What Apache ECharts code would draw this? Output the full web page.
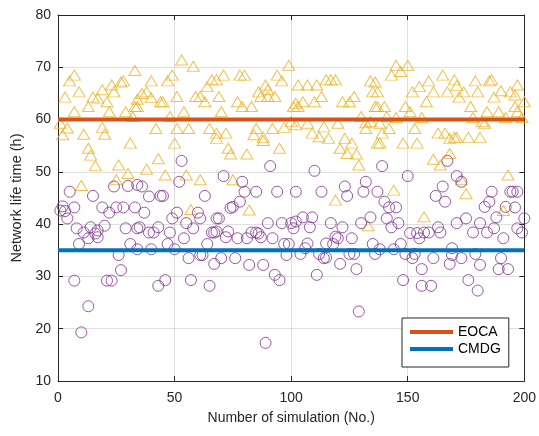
<!DOCTYPE html>
<html>
<head>
<meta charset="utf-8">
<script src="https://cdn.jsdelivr.net/npm/echarts@6/dist/echarts.min.js"></script>
<style>html,body{margin:0;padding:0;background:#fff;}#c{width:539px;height:436px;}</style>
</head>
<body>
<div id="c"></div>
<script>
// x ticks / y ticks
const xTicks = [0, 50, 100, 150, 200];
const yTicks = [10, 20, 30, 40, 50, 60, 70, 80];
const eocaLevel = 60;
const cmdgLevel = 35;
// triangle markers [simulation, life time]
const triangleRuns = [
[7,68.5],[5,67.4],[9,65.3],[3,64.3],[7,61.5],[1,59.3],[4,58.4],[2,57.1],[11,57.2],[13,54.5],[14,53.2],[16,51.2],[10,47.4],[15,64.3],[17,64.1],[19,65.7],[23,66.6],[28,67.4],[27,67.2],[33,69.4],[24,65.3],[21,63.4],[22,61.5],[29,61.5],[19,58.5],[20,57.2],[31,55.5],[26,51.3],[30,49.7],[25,48.5],[32,60.6],[34,63.9],[13,62.5],[33,62.5],
[53,71.4],[58,70.2],[49,68.5],[47,67.4],[40,67.4],[36,65],[38,65.3],[40,64.2],[44,63.4],[45,63.4],[51,64.4],[59,64.4],[61,64.4],[63,63.4],[64,66.3],[66,67.6],[54,61.5],[34,62.5],[48,60.6],[42,58.3],[51,58.3],[56,58.3],[65,58.3],[68,56.4],[50,55.5],[43,52.5],[38,50.5],[46,49.4],[55,49.4],[61,48.5],[57,42.8],
[99,70.4],[71,68.5],[78,68.5],[80,68.5],[68,67.6],[94,68.5],[96,67.4],[69,64.4],[86,65.3],[89,66.6],[90,65.7],[90,64.4],[87,64.4],[93,64.4],[77,63.4],[79,62.5],[83,62.5],[70,61.5],[101,62.5],[100,59.6],[97,58.5],[68,57.4],[72,57.4],[85,58.3],[92,58.3],[84,57.1],[88,56.6],[73,54.5],[74,53.4],[81,53.4],[95,54.5],[75,48.5],[82,42.7],[88,56.0],
[103,66.6],[107,66.6],[111,66.6],[115,67.6],[117,67.6],[119,67.6],[134,67.4],[135,65.3],[113,64.4],[102,63.1],[105,63.4],[110,63.4],[122,63.4],[125,63.4],[127,64.4],[136,62.5],[103,62.5],[130,60.6],[132,59.4],[134,59.6],[102,59],[107,59.3],[114,58.6],[120,59.3],[132,58.3],[109,57.4],[112,56.7],[116,56.4],[123,56.4],[126,55.5],[137,55.5],[121,54.5],[124,53.5],[128,53.4],[129,51.3],[119,44.6],[133,39.7],
[145,70.4],[150,70.4],[147,69.2],[143,68.5],[165,68.5],[159,67.4],[136,67.2],[155,66.3],[137,65.3],[152,65.3],[161,65.3],[167,65.3],[171,66.5],[158,63.4],[149,62.5],[151,61.5],[137,62.5],[140,62.5],[141,60.6],[145,60.4],[156,60.4],[138,59.3],[142,58.3],[153,58.3],[163,57.4],[166,57.4],[168,56.4],[170,56.6],[139,57.4],[138,55.5],[148,55.5],[154,55.5],[168,53.5],[161,52.4],[164,51.3],[144,46.5],[157,41.4],
[179,67.4],[185,67.4],[186,67.6],[170,67.6],[197,66.6],[174,65.3],[180,65.3],[190,65.5],[194,65.3],[196,64.7],[172,64.3],[187,64.3],[200,63.4],[177,62.5],[196,62.5],[184,61.5],[189,61.5],[197,61.5],[178,60.4],[192,60.4],[199,60.4],[182,59.6],[183,59.3],[171,56.6],[176,56.6],[181,56.6],[193,49.4],[173,48.5],[175,45.8],[191,42.6]
];
// circle markers [simulation, life time]
const circleRuns = [
[5,46.2],[15,45.4],[24,47.2],[30,47.3],[34,47.5],[2,43.4],[7,43.2],[1,42.6],[4,41.1],[19,43.2],[22,42.2],[25,43.2],[28,43.2],[33,43.2],[8,39.2],[11,38.4],[14,39.4],[17,38.8],[20,39.7],[13,37.3],[17,37.5],[9,36.2],[29,39.2],[34,39.2],[31,36.2],[34,35.2],[26,34.1],[27,31.2],[7,29.2],[21,29.2],[23,29.2],[13,24.3],[10,19.3],[16,38.2],[3,42.5],
[53,52.1],[52,48.1],[36,47.2],[39,45.3],[45,45.4],[44,45.4],[63,45.4],[37,42.2],[51,42.2],[49,41.1],[55,40.2],[60,42.2],[61,41.1],[68,41.1],[35,39.4],[39,38.4],[41,38.4],[43,39.4],[48,38.4],[58,39.2],[54,37.3],[66,38.4],[67,38.4],[40,35.2],[47,36.2],[50,35.2],[64,36.2],[56,33.5],[61,34.1],[62,34.1],[67,32.4],[46,29.3],[57,29.3],[43,28.2],[65,28.2],
[91,51.1],[71,49.2],[79,48.1],[80,46.2],[85,46.2],[94,46.2],[102,46.2],[78,44.3],[75,43.3],[74,43.1],[69,41.1],[90,40.2],[96,40.2],[100,40.2],[101,39.2],[68,38.6],[73,38.6],[72,37.5],[77,37.3],[81,37.3],[83,38.4],[85,38.4],[86,38.2],[87,37.5],[92,37.3],[97,36.2],[99,36.2],[98,34.1],[70,33.5],[76,33.5],[82,32.2],[88,32.2],[93,30.3],[95,29.3],[89,17.3],
[110,50.2],[113,46.2],[123,47.2],[124,45.4],[132,48.1],[131,46.2],[137,46.2],[102,40.5],[105,41.3],[109,41.3],[108,39.4],[117,40.2],[122,39.4],[134,41.3],[130,40.2],[119,37.6],[120,37.3],[126,37.3],[107,36.3],[115,36.3],[118,36.2],[106,35.4],[104,34.3],[112,34.3],[114,33.5],[115,33.6],[125,34.3],[127,34.3],[135,36.2],[136,34.3],[121,32.4],[128,31.4],[111,30.3],[129,23.3],
[167,52.1],[139,51.1],[150,49.2],[171,49.2],[165,47.2],[162,45.4],[166,44.3],[140,44.3],[142,43.2],[145,43.2],[141,41.1],[143,39.4],[146,40.2],[151,38.3],[154,38.3],[155,37.3],[157,38.4],[159,38.4],[163,39.4],[164,38.4],[171,40.2],[147,36.2],[138,35.2],[144,35.2],[149,34.3],[153,34.3],[152,33.5],[161,33.5],[169,35.4],[169,34.1],[168,32.4],[156,31.4],[148,29.3],[156,28.2],[160,28.2],
[173,48.1],[186,46.2],[194,46.2],[195,46.2],[197,46.2],[185,44.3],[183,43.3],[192,43.3],[196,43.2],[188,41.3],[200,41.1],[175,41.1],[181,40.2],[187,39.2],[197,39.2],[199,38.4],[178,38.4],[184,38.4],[191,37.3],[173,33.5],[179,34.3],[181,32.2],[190,33.5],[189,31.4],[193,31.4],[176,29.3],[180,27.3]
];

const AX = '#262626';
const FONT = 'Liberation Sans, Arial, Helvetica, sans-serif';
const chart = echarts.init(document.getElementById('c'));
const xMin = xTicks[0], xMax = xTicks[xTicks.length-1];
const yMin = yTicks[0], yMax = yTicks[yTicks.length-1];
const baseX = {type:'value', min:xMin, max:xMax, interval:50};
const baseY = {type:'value', min:yMin, max:yMax, interval:10};
chart.setOption({
  animation:false,
  backgroundColor:'#fff',
  grid:{left:58, right:11, top:15, bottom:55, containLabel:false},
  xAxis:[
    Object.assign({}, baseX, {position:'bottom', name:'Number of simulation (No.)', nameLocation:'middle', nameGap:30,
      nameTextStyle:{color:AX, fontSize:14, fontFamily:FONT},
      axisLine:{show:true, onZero:false, lineStyle:{color:AX, width:1}},
      axisTick:{show:true, inside:true, length:5, lineStyle:{color:AX}},
      axisLabel:{color:AX, fontSize:14, fontFamily:FONT, margin:10},
      splitLine:{show:true, lineStyle:{color:'rgba(38,38,38,0.15)', width:1}}}),
    Object.assign({}, baseX, {position:'top',
      axisLine:{show:true, onZero:false, lineStyle:{color:AX, width:1}},
      axisTick:{show:true, inside:true, length:5, lineStyle:{color:AX}},
      axisLabel:{show:false}, splitLine:{show:false}})
  ],
  yAxis:[
    Object.assign({}, baseY, {position:'left', name:'Network life time (h)', nameLocation:'middle', nameGap:31,
      nameTextStyle:{color:AX, fontSize:14.5, fontFamily:FONT},
      axisLine:{show:true, onZero:false, lineStyle:{color:AX, width:1}},
      axisTick:{show:true, inside:true, length:5, lineStyle:{color:AX}},
      axisLabel:{color:AX, fontSize:14, fontFamily:FONT, margin:7},
      splitLine:{show:true, lineStyle:{color:'rgba(38,38,38,0.15)', width:1}}}),
    Object.assign({}, baseY, {position:'right',
      axisLine:{show:true, onZero:false, lineStyle:{color:AX, width:1}},
      axisTick:{show:true, inside:true, length:5, lineStyle:{color:AX}},
      axisLabel:{show:false}, splitLine:{show:false}})
  ],
  legend:{
    data:['EOCA','CMDG'], orient:'vertical', left:402, top:318,
    padding:[6,8,10,8], itemGap:1, itemWidth:43, itemHeight:4, icon:'rect',
    backgroundColor:'#fff', borderColor:AX, borderWidth:1, borderRadius:0,
    textStyle:{color:'#000', fontSize:14, fontFamily:FONT, lineHeight:16},
    selectedMode:false
  },
  series:[
    {type:'scatter', name:'tri', xAxisIndex:0, yAxisIndex:0, data:triangleRuns, symbol:'triangle', symbolSize:[12,10],
      itemStyle:{color:'rgba(0,0,0,0)', borderColor:'#EDB120', borderWidth:1}, silent:true, z:2},
    {type:'scatter', name:'cir', xAxisIndex:0, yAxisIndex:0, data:circleRuns, symbol:'circle', symbolSize:11,
      itemStyle:{color:'rgba(0,0,0,0)', borderColor:'#7E2F8E', borderWidth:1}, silent:true, z:2},
    {type:'line', name:'EOCA', xAxisIndex:0, yAxisIndex:0, data:[[xMin,eocaLevel],[xMax,eocaLevel]], showSymbol:false, symbol:'none',
      color:'#D95319', lineStyle:{color:'#D95319', width:4}, z:3},
    {type:'line', name:'CMDG', xAxisIndex:0, yAxisIndex:0, data:[[xMin,cmdgLevel],[xMax,cmdgLevel]], showSymbol:false, symbol:'none',
      color:'#0072BD', lineStyle:{color:'#0072BD', width:4}, z:3}
  ]
});
</script>
</body>
</html>
